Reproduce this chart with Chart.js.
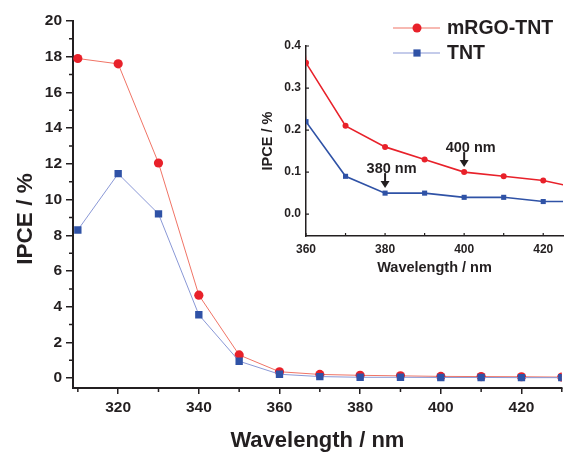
<!DOCTYPE html>
<html><head><meta charset="utf-8">
<script src="https://cdn.jsdelivr.net/npm/chart.js@4/dist/chart.umd.min.js"></script>
<style>
html,body{margin:0;padding:0;background:#fff;}
#wrap{position:relative;width:567px;height:453px;overflow:hidden;background:#fff;}
#main{position:absolute;left:0;top:0;}
#inset{position:absolute;left:240px;top:20px;}
</style></head><body>
<div id="wrap">
<canvas id="main" width="567" height="453"></canvas>
<canvas id="inset" width="327" height="270"></canvas>
</div>
<script>
// ---- data ----
const wavelengths = [310, 320, 330, 340, 350, 360, 370, 380, 390, 400, 410, 420, 430];
const mrgoTnt     = [17.9, 17.6, 12.05, 4.65, 1.3, 0.36, 0.21, 0.16, 0.13, 0.10, 0.09, 0.08, 0.06];
const tnt         = [8.3, 11.45, 9.2, 3.55, 0.95, 0.22, 0.09, 0.05, 0.05, 0.04, 0.04, 0.03, 0.03];
const seriesNames = ['mRGO-TNT', 'TNT'];
const mainXTicks  = [320, 340, 360, 380, 400, 420];
const mainXMinor  = [310, 330, 350, 370, 390, 410, 430];
const mainYTicks  = [0, 2, 4, 6, 8, 10, 12, 14, 16, 18, 20];
const mainYMinor  = [1, 3, 5, 7, 9, 11, 13, 15, 17, 19];
const insetXTicks = [360, 380, 400, 420];
const insetXMarks = [360, 370, 380, 390, 400, 410, 420];
const insetYTicks = [0.0, 0.1, 0.2, 0.3, 0.4];
const notes       = [{ text: '380 nm', x: 380, series: 1 }, { text: '400 nm', x: 400, series: 0 }];

// ---- styles ----
const FONT = "'Liberation Sans', Arial, Helvetica, sans-serif";
const INK = '#231f20';
const RED = '#e8212a', BLUE = '#2f52a6';
const RED_LINE = '#f07466', BLUE_LINE = '#8a98d6';

const toXY = arr => arr.map((v, i) => ({ x: wavelengths[i], y: v }));
const setTicks = list => s => { s.ticks = list.map(v => ({ value: v })); };

// ---- main chart ----
const mainDecor = {
  id: 'mainDecor',
  afterDraw(chart) {
    const { ctx, chartArea: ca, scales: { x, y } } = chart;
    ctx.save();
    ctx.strokeStyle = INK; ctx.lineWidth = 1.5;
    ctx.beginPath();
    mainYMinor.forEach(v => { const p = y.getPixelForValue(v); ctx.moveTo(ca.left - 4, p); ctx.lineTo(ca.left, p); });
    mainXMinor.forEach(v => { const p = x.getPixelForValue(v); ctx.moveTo(p, ca.bottom); ctx.lineTo(p, ca.bottom + 4); });
    ctx.stroke();
    // y title
    ctx.fillStyle = INK;
    ctx.font = `bold 22.5px ${FONT}`;
    ctx.textAlign = 'center'; ctx.textBaseline = 'middle';
    ctx.translate(26, 219); ctx.rotate(-Math.PI / 2);
    ctx.fillText('IPCE / %', 0, 0);
    ctx.restore();
  }
};

new Chart(document.getElementById('main'), {
  type: 'line',
  data: {
    datasets: [
      { label: seriesNames[0], data: toXY(mrgoTnt), borderColor: RED_LINE, borderWidth: 1,
        pointStyle: 'circle', pointRadius: 4.6, pointBackgroundColor: RED, pointBorderColor: RED, pointBorderWidth: 0 },
      { label: seriesNames[1], data: toXY(tnt), borderColor: BLUE_LINE, borderWidth: 1,
        pointStyle: 'rect', pointRadius: 5.2, pointBackgroundColor: BLUE, pointBorderColor: BLUE, pointBorderWidth: 0 }
    ].reverse()
  },
  options: {
    responsive: false, devicePixelRatio: 1, animation: false,
    layout: { padding: { top: 21, right: 0, left: 0, bottom: 0 } },
    plugins: { legend: { display: false }, tooltip: { enabled: false } },
    scales: {
      x: {
        type: 'linear', min: 308.8, max: 430,
        afterBuildTicks: setTicks(mainXTicks),
        afterFit: s => { s.height = 65; },
        border: { display: true, color: INK, width: 2 },
        grid: { drawOnChartArea: false, drawTicks: true, tickLength: 6, color: INK, lineWidth: 1.5 },
        ticks: { color: INK, font: { family: FONT, size: 15.5, weight: 'bold' }, padding: 4, maxRotation: 0 },
        title: { display: true, text: 'Wavelength / nm', color: INK,
                 font: { family: FONT, size: 22, weight: 'bold', lineHeight: 1 }, padding: { top: 0, bottom: 1 } }
      },
      y: {
        type: 'linear', min: -0.55, max: 20,
        afterBuildTicks: setTicks(mainYTicks),
        afterFit: s => { s.width = 73; },
        border: { display: true, color: INK, width: 2 },
        grid: { drawOnChartArea: false, drawTicks: true, tickLength: 7, color: INK, lineWidth: 1.5 },
        ticks: { color: INK, font: { family: FONT, size: 15.5, weight: 'bold' }, padding: 4 }
      }
    }
  },
  plugins: [mainDecor]
});

// ---- inset chart ----
const insetDecor = {
  id: 'insetDecor',
  afterDraw(chart) {
    const { ctx, chartArea: ca, scales: { x, y } } = chart;
    const series = [mrgoTnt, tnt];
    ctx.save();
    // inward tick marks
    ctx.strokeStyle = INK; ctx.lineWidth = 1.2;
    ctx.beginPath();
    insetXMarks.forEach(v => { const p = x.getPixelForValue(v); ctx.moveTo(p, ca.bottom); ctx.lineTo(p, ca.bottom - 3); });
    insetYTicks.forEach(v => { const p = y.getPixelForValue(v); ctx.moveTo(ca.left, p); ctx.lineTo(ca.left + 3, p); });
    ctx.stroke();
    // annotations
    ctx.fillStyle = INK; ctx.strokeStyle = INK;
    ctx.font = `bold 14.5px ${FONT}`;
    ctx.textAlign = 'center'; ctx.textBaseline = 'middle';
    notes.forEach(n => {
      const idx = wavelengths.indexOf(n.x);
      const px = x.getPixelForValue(n.x);
      const py = y.getPixelForValue(series[n.series][idx]);
      const tip = py - 5;
      ctx.lineWidth = 2;
      ctx.beginPath(); ctx.moveTo(px, tip - 15); ctx.lineTo(px, tip - 5); ctx.stroke();
      ctx.beginPath(); ctx.moveTo(px - 4.5, tip - 7); ctx.lineTo(px + 4.5, tip - 7); ctx.lineTo(px, tip); ctx.closePath(); ctx.fill();
      ctx.fillText(n.text, px + 6.5, tip - 19.5);
    });
    // legend (drawn in page coordinates: inset canvas sits at 240,20)
    const ox = -240, oy = -20;
    const rows = [
      { name: seriesNames[0], line: RED_LINE, color: RED, shape: 'circle', y: 28 },
      { name: seriesNames[1], line: BLUE_LINE, color: BLUE, shape: 'rect', y: 53 }
    ];
    ctx.font = `bold 19.5px ${FONT}`;
    ctx.textAlign = 'left';
    rows.forEach(r => {
      const yy = r.y + oy;
      ctx.strokeStyle = r.line; ctx.lineWidth = 1.2;
      ctx.beginPath(); ctx.moveTo(393 + ox, yy); ctx.lineTo(440 + ox, yy); ctx.stroke();
      ctx.fillStyle = r.color;
      if (r.shape === 'circle') { ctx.beginPath(); ctx.arc(417 + ox, yy, 4.5, 0, Math.PI * 2); ctx.fill(); }
      else { ctx.fillRect(417 + ox - 3.6, yy - 3.6, 7.2, 7.2); }
      ctx.fillStyle = INK;
      ctx.fillText(r.name, 447 + ox, yy + 1);
    });
    ctx.restore();
  }
};

new Chart(document.getElementById('inset'), {
  type: 'line',
  data: {
    datasets: [
      { label: seriesNames[0], data: toXY(mrgoTnt), borderColor: RED, borderWidth: 1.6,
        pointStyle: 'circle', pointRadius: 3, pointBackgroundColor: RED, pointBorderWidth: 0 },
      { label: seriesNames[1], data: toXY(tnt), borderColor: BLUE, borderWidth: 1.6,
        pointStyle: 'rect', pointRadius: 3.6, pointBackgroundColor: BLUE, pointBorderWidth: 0 }
    ]
  },
  options: {
    responsive: false, devicePixelRatio: 1, animation: false,
    layout: { padding: { top: 26, right: 4, left: 0, bottom: 0 } },
    plugins: { legend: { display: false }, tooltip: { enabled: false } },
    scales: {
      x: {
        type: 'linear', min: 360, max: 425,
        afterBuildTicks: setTicks(insetXTicks),
        afterFit: s => { s.height = 54; },
        border: { display: true, color: INK, width: 1.5 },
        grid: { display: false, drawTicks: false },
        ticks: { color: INK, font: { family: FONT, size: 12, weight: 'bold' }, padding: 6, maxRotation: 0 },
        title: { display: true, text: 'Wavelength / nm', color: INK,
                 font: { family: FONT, size: 14.5, weight: 'bold', lineHeight: 1.2 }, padding: { top: 0, bottom: 13 } }
      },
      y: {
        type: 'linear', min: -0.052, max: 0.4,
        afterBuildTicks: setTicks(insetYTicks),
        afterFit: s => { s.width = 66; },
        border: { display: true, color: INK, width: 1.5 },
        grid: { display: false, drawTicks: false },
        ticks: { color: INK, font: { family: FONT, size: 12, weight: 'bold' }, padding: 5,
                 callback: v => v.toFixed(1) },
        title: { display: true, text: 'IPCE / %', color: INK,
                 font: { family: FONT, size: 14.5, weight: 'bold', lineHeight: 1.2 }, padding: { top: 19, bottom: 0 } }
      }
    }
  },
  plugins: [insetDecor]
});
</script>
</body></html>
